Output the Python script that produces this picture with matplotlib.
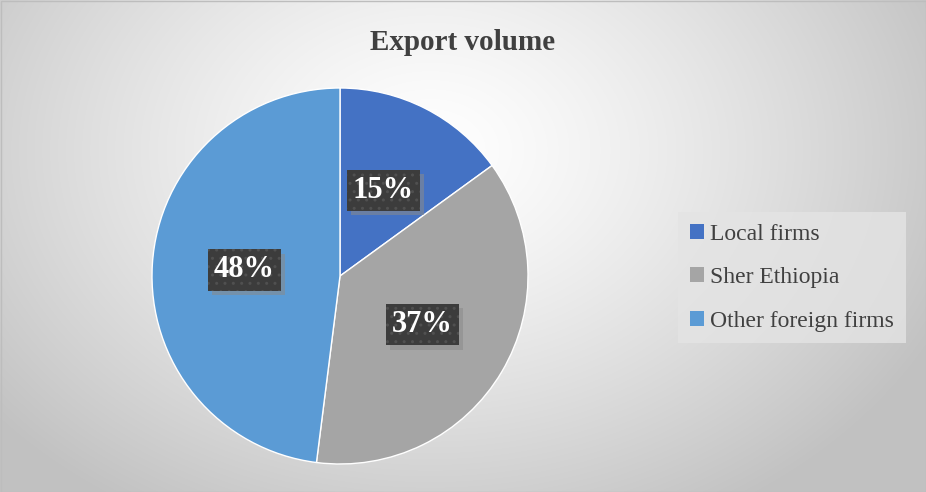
import numpy as np
import matplotlib
matplotlib.use("Agg")
import matplotlib.pyplot as plt
from matplotlib.patches import Patch, Rectangle
import matplotlib.patheffects as pe

categories = ["Local firms", "Sher Ethiopia", "Other foreign firms"]
shares = [15, 37, 48]
colors = ["#4472C4", "#A5A5A5", "#5B9BD5"]
title = "Export volume"

W, H = 926, 492
fig = plt.figure(figsize=(W / 100, H / 100), dpi=100)
plt.rcParams['font.family'] = ['Liberation Serif', 'DejaVu Serif']

# radial gradient background
bg = fig.add_axes([0, 0, 1, 1])
yy, xx = np.mgrid[0:H, 0:W]
cx, cy = 430, 150
d = np.sqrt(((xx - cx) / 560.0) ** 2 + ((yy - cy) / 420.0) ** 2)
v = 1.0 - 0.24 * np.clip(d, 0, 1) ** 1.3
img = np.dstack([v, v, v])
bg.imshow(img, extent=[0, W, 0, H], origin='upper', aspect='auto')
bg.add_patch(Rectangle((0.5, 0.5), W - 1, H - 1, fill=False, edgecolor='#bdbdbd', lw=1))
bg.set_xlim(0, W); bg.set_ylim(0, H)
bg.axis('off')

# pie
pcx, pcy, r = 340, 276, 188
ax = fig.add_axes([(pcx - r) / W, (H - pcy - r) / H, 2 * r / W, 2 * r / H])
wedges, texts, autotexts = ax.pie(
    shares, colors=colors, startangle=90, counterclock=False,
    autopct='%1.0f%%', pctdistance=0.51,
    wedgeprops=dict(edgecolor='white', linewidth=1.0),
    textprops=dict(color='white', fontsize=22, fontweight='bold'))
for t in autotexts:
    t.set_bbox(dict(boxstyle='square,pad=0.2', facecolor='#3c3c3c', edgecolor='#505050',
                    hatch='..', linewidth=0,
                    path_effects=[pe.PathPatchEffect(offset=(3, -3), facecolor='#8a8a8a',
                                                     edgecolor='none', alpha=0.55),
                                  pe.Normal()]))
ax.set_xlim(-1, 1); ax.set_ylim(-1, 1)
ax.set_aspect('equal')

fig.text(0.5, 1 - 42 / H, title, ha='center', va='center', fontsize=21,
         fontweight='bold', color='#404040')

handles = [Patch(facecolor=c, edgecolor='none') for c in colors]
leg = fig.legend(handles, categories, loc='upper left',
                 bbox_to_anchor=(678 / W, 1 - 212 / H), frameon=True,
                 fontsize=17, handlelength=0.6, handleheight=0.6, handletextpad=0.25,
                 labelspacing=0.95, borderpad=0.5, fancybox=False, borderaxespad=0)
leg.get_frame().set_facecolor('#e4e4e4')
leg.get_frame().set_edgecolor('none')
leg.get_frame().set_alpha(0.8)
for t in leg.get_texts():
    t.set_color('#404040')

fig.savefig('out.png', dpi=100)
